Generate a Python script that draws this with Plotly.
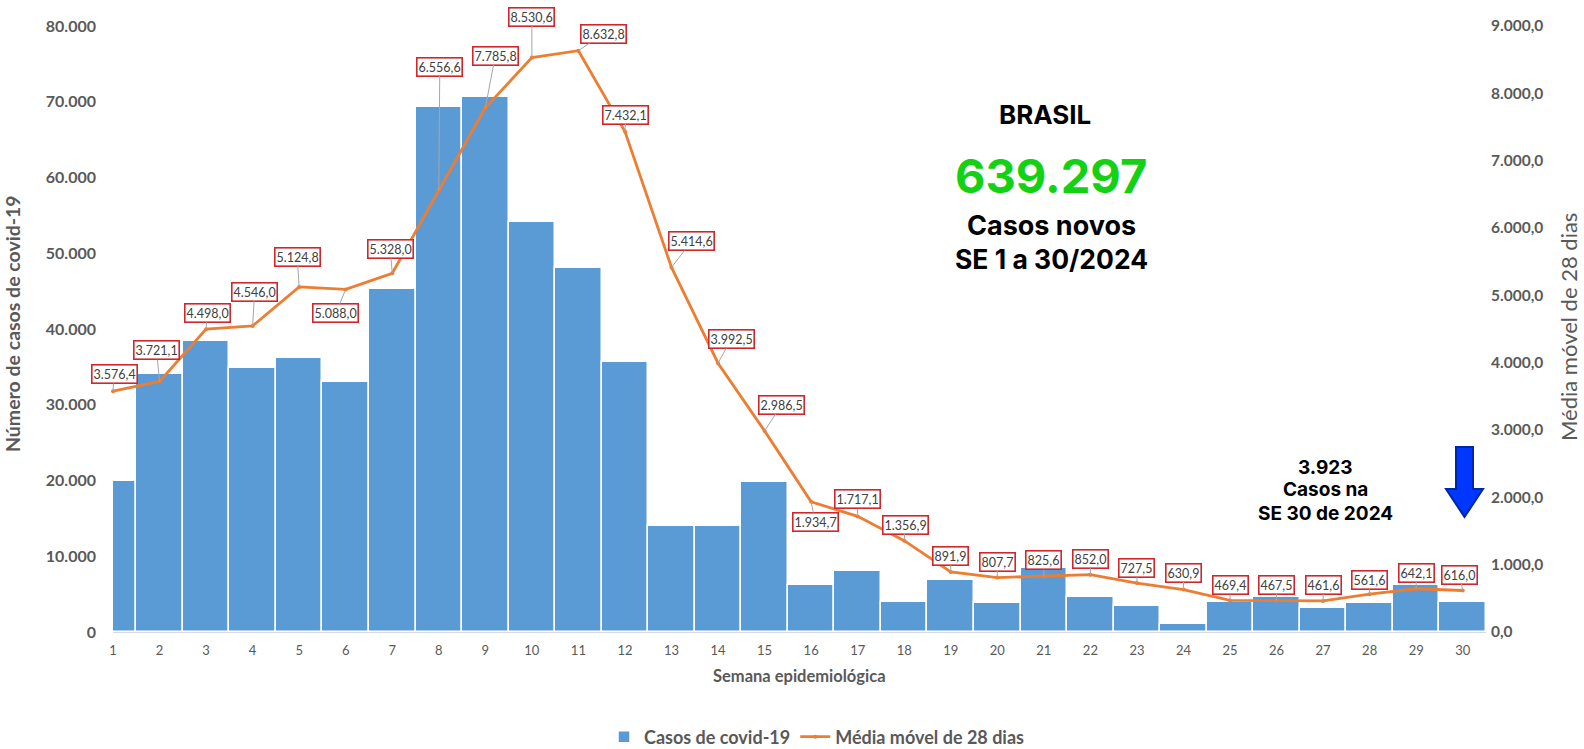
import plotly.graph_objects as go

weeks = list(range(1, 31))
cases = [19900, 34000, 38450, 34790, 36200, 33030, 45240, 69310, 70590, 54100,
         48010, 35620, 14020, 14020, 19800, 6220, 8030, 4010, 6840, 3800,
         8430, 4590, 3400, 1020, 4010, 4590, 3210, 3800, 6180, 3923]
moving_avg = [3576.4, 3721.1, 4498.0, 4546.0, 5124.8, 5088.0, 5328.0, 6556.6, 7785.8, 8530.6,
              8632.8, 7432.1, 5414.6, 3992.5, 2986.5, 1934.7, 1717.1, 1356.9, 891.9, 807.7,
              825.6, 852.0, 727.5, 630.9, 469.4, 467.5, 461.6, 561.6, 642.1, 616.0]

bar_name = "Casos de covid-19"
line_name = "Média móvel de 28 dias"

# pixel offsets (label centre relative to point) for the data labels
label_offsets = [(1, -17), (-3, -31), (1, -16), (2, -34), (-2, -30), (-10, 24), (-2, -24),
                 (1, -124), (10, -52), (0, -41), (25, -17), (1, -17), (20, -26), (13, -24),
                 (17, -26), (4, 20), (0, -17), (1, -16), (0, -16), (0, -16), (0, -16),
                 (0, -16), (0, -15), (0, -17), (0, -15), (0, -16), (0, -16), (0, -14),
                 (0, -16), (-3, -16)]


def br(v, dec=1):
    s = f"{v:,.{dec}f}"
    return s.replace(",", "X").replace(".", ",").replace("X", ".")


GRAY = "#595959"
FONT = "Lato"
TFONT = "Inter"

fig = go.Figure()
fig.add_trace(go.Bar(
    x=weeks, y=cases, name=bar_name,
    marker=dict(color="#5B9BD5", line=dict(color="white", width=1.5)),
    yaxis="y",
))
fig.add_trace(go.Scatter(
    x=weeks, y=moving_avg, name=line_name, yaxis="y2",
    mode="lines+markers",
    line=dict(color="#ED7D31", width=2.8),
    marker=dict(color="#ED7D31", size=4),
    cliponaxis=False,
))

annotations = []
for w, v, (ax, ay) in zip(weeks, moving_avg, label_offsets):
    annotations.append(dict(
        x=w, y=v, xref="x", yref="y2", text=br(v, 1),
        showarrow=True, arrowhead=0, arrowwidth=1, arrowcolor="#A6A6A6",
        ax=ax, ay=ay, standoff=0,
        bgcolor="white", bordercolor="#D0262C", borderwidth=1.6, borderpad=1,
        font=dict(family=FONT, size=12.5, color="#404040"),
    ))

def txt(text, x, y, size, color="black", family=TFONT, angle=0, weight="bold"):
    annotations.append(dict(
        text=text, x=x, y=y, xref="paper", yref="paper", showarrow=False,
        xanchor="center", yanchor="middle", textangle=angle,
        font=dict(family=family, size=size, color=color, weight=weight),
    ))

L, W, T, H = 113, 1373, 26, 606
def px(xp):
    return (xp - L) / W
def py(yp):
    return (T + H - yp) / H

txt("BRASIL", px(1045), py(115), 26)
txt("639.297", px(1051), py(175), 47, color="#14D114")
txt("Casos novos", px(1051), py(225), 27)
txt("SE 1 a 30/2024", px(1051), py(259), 26.5)
txt("3.923", px(1325), py(467), 19)
txt("Casos na", px(1325), py(490), 19)
txt("SE 30 de 2024", px(1325), py(513), 19)
txt("Número de casos de covid-19", px(12), py(324), 19.5, color=GRAY, family=FONT, angle=-90)
txt("Média móvel de 28 dias", px(1568), py(327), 22, color=GRAY, family=FONT, angle=-90,
    weight="normal")
txt("Semana epidemiológica", px(799), py(676), 16.5, color=GRAY, family=FONT)

# blue down arrow
ax_c, hw, hh = px(1464.5), 8.5 / W, 18.5 / W
y_top, y_neck, y_tip = py(447), py(489), py(517)
path = (f"M {ax_c-hw} {y_top} L {ax_c+hw} {y_top} L {ax_c+hw} {y_neck} L {ax_c+hh} {y_neck} "
        f"L {ax_c} {y_tip} L {ax_c-hh} {y_neck} L {ax_c-hw} {y_neck} Z")
shapes = [dict(type="path", xref="paper", yref="paper", path=path,
               fillcolor="#0037FF", line=dict(color="#0026A8", width=2))]

fig.update_layout(
    width=1584, height=749,
    margin=dict(l=L, r=1584 - L - W, t=T, b=749 - T - H, autoexpand=False),
    plot_bgcolor="white", paper_bgcolor="white",
    separators=",.",
    bargap=0,
    showlegend=True,
    legend=dict(orientation="h", x=(817) / 1584, y=1 - 737 / 749, xref="container", yref="container",
                xanchor="center", yanchor="middle",
                font=dict(family=FONT, size=18, color=GRAY, weight="bold"),
                itemwidth=30, tracegroupgap=0),
    xaxis=dict(range=[1, 30.5], tickmode="array", tickvals=weeks, ticktext=[str(w) for w in weeks],
               showgrid=False, zeroline=False, showline=True, linecolor="#D9D9D9", linewidth=1,
               tickfont=dict(family=FONT, size=13, color=GRAY), ticks="", ticklabelstandoff=6),
    yaxis=dict(range=[0, 80000], dtick=10000, tickformat=",d", showgrid=False, zeroline=False,
               tickfont=dict(family=FONT, size=16, color=GRAY, weight="bold"),
               ticklabelstandoff=16),
    yaxis2=dict(range=[0, 9000], dtick=1000, tickformat=",.1f", overlaying="y", side="right",
                showgrid=False, zeroline=False,
                tickfont=dict(family=FONT, size=15.5, color=GRAY, weight="bold"),
                ticklabelstandoff=4),
    annotations=annotations,
    shapes=shapes,
)

fig.write_html("out.html")
